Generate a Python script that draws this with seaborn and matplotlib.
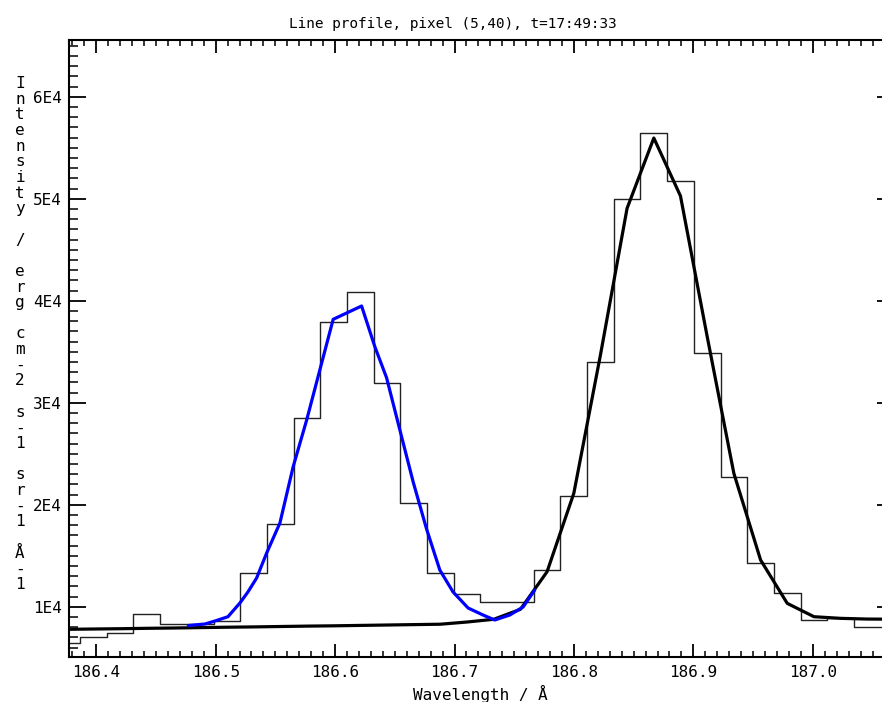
import matplotlib
matplotlib.use("Agg")
import matplotlib.pyplot as plt
import seaborn as sns
import pandas as pd
from matplotlib.ticker import FixedLocator, FixedFormatter, MultipleLocator

# ---------------- data ----------------
wavelength = [186.3753, 186.3976, 186.4200, 186.4423, 186.4647, 186.4870, 186.5094,
              186.5317, 186.5541, 186.5764, 186.5988, 186.6211, 186.6434, 186.6658,
              186.6881, 186.7105, 186.7328, 186.7552, 186.7775, 186.7999, 186.8222,
              186.8445, 186.8669, 186.8892, 186.9116, 186.9339, 186.9563, 186.9786,
              187.0010, 187.0233, 187.0456, 187.0680]
intensity_obs = [6410, 7060, 7390, 9250, 8350, 8350, 8630, 13280, 18110, 28480,
                 37940, 40880, 31900, 20170, 13300, 11250, 10460, 10460, 13600, 20880,
                 33990, 49940, 56470, 51770, 34870, 22750, 14310, 11370, 8700, 8890,
                 8040, 8040]
fit_total = [7784, 7814, 7843, 7882, 7912, 7951, 7990, 8020, 8059, 8098, 8127, 8167,
             8206, 8245, 8284, 8500, 8765, 9745, 13430, 21120, 34680, 49060, 55950,
             50270, 36470, 23080, 14580, 10330, 9020, 8860, 8790, 8775]
fit_line1_x = [186.4771, 186.4910, 186.4994, 186.5103, 186.5203, 186.5270, 186.5343,
               186.5427, 186.5538, 186.5649, 186.5762, 186.5984, 186.6222, 186.6333,
               186.6431, 186.6542, 186.6654, 186.6766, 186.6877, 186.6988, 186.7114,
               186.7239, 186.7337, 186.7463, 186.7574, 186.7672]
fit_line1_y = [8157, 8304, 8598, 9020, 10363, 11441, 12814, 15265, 18206, 23726,
               28304, 38177, 39481, 35490, 32453, 27353, 22226, 17618, 13598, 11441,
               9873, 9186, 8696, 9186, 9971, 11637]

xtick_values = [186.4, 186.5, 186.6, 186.7, 186.8, 186.9, 187.0]
xtick_labels = ["186.4", "186.5", "186.6", "186.7", "186.8", "186.9", "187.0"]
ytick_values = [10000, 20000, 30000, 40000, 50000, 60000]
ytick_labels = ["1E4", "2E4", "3E4", "4E4", "5E4", "6E4"]

title = "Line profile, pixel (5,40), t=17:49:33"
xlabel = "Wavelength / Å"
ylabel = "Intensity / erg cm-2 s-1 sr-1 Å-1"

obs = pd.DataFrame({"wl": wavelength, "obs": intensity_obs, "fit": fit_total})
line1 = pd.DataFrame({"wl": fit_line1_x, "fit": fit_line1_y})

# ---------------- figure ----------------
sns.set_theme(style="ticks")
plt.rcParams["font.family"] = ["DejaVu Sans Mono", "DejaVu Sans"]

W, H = 882, 702
fig = plt.figure(figsize=(W / 100, H / 100), dpi=100)
fig.patch.set_facecolor("white")
ax = fig.add_axes([69 / W, 45 / H, 825 / W, 617 / H])
ax.set_facecolor("white")

sns.lineplot(data=obs, x="wl", y="obs", ax=ax, color="#222222", linewidth=1.0,
             drawstyle="steps-mid", estimator=None, sort=False)
sns.lineplot(data=obs, x="wl", y="fit", ax=ax, color="black", linewidth=2.3,
             estimator=None, sort=False)
sns.lineplot(data=line1, x="wl", y="fit", ax=ax, color="#0000ff", linewidth=2.3,
             estimator=None, sort=False)

ax.set_xlim(186.3772, 187.0680)
ax.set_ylim(5070, 65560)

ax.xaxis.set_major_locator(FixedLocator(xtick_values))
ax.xaxis.set_major_formatter(FixedFormatter(xtick_labels))
ax.xaxis.set_minor_locator(MultipleLocator(0.01))
ax.yaxis.set_major_locator(FixedLocator(ytick_values))
ax.yaxis.set_major_formatter(FixedFormatter(ytick_labels))
ax.yaxis.set_minor_locator(MultipleLocator(1000))

ax.tick_params(axis="x", which="major", direction="in", length=9.4, width=1.3,
               top=True, bottom=True, labelsize=11.5, pad=6, colors="black")
ax.tick_params(axis="x", which="minor", direction="in", length=4.5, width=1.3,
               top=True, bottom=True)
ax.tick_params(axis="y", which="major", direction="in", length=12.2, width=1.3,
               left=True, right=True, labelsize=11.5, pad=5, colors="black")
ax.tick_params(axis="y", which="minor", direction="in", length=6.3, width=1.3,
               left=True, right=True)
for s in ax.spines.values():
    s.set_visible(True)
    s.set_color("black")
    s.set_linewidth(1.5)

ax.set_xlabel("")
ax.set_ylabel("")

fig.text(453 / W, 1 - 24 / H, title, ha="center", va="center", fontsize=10.4,
         color="black")
fig.text(480 / W, 1 - 694 / H, xlabel, ha="center", va="center", fontsize=11.5,
         color="black")
fig.text(20 / W, 1 - 334 / H, "\n".join(list(ylabel)), ha="center", va="center",
         fontsize=11.5, linespacing=1.055, color="black")

fig.savefig("out.png", dpi=100, facecolor="white")
